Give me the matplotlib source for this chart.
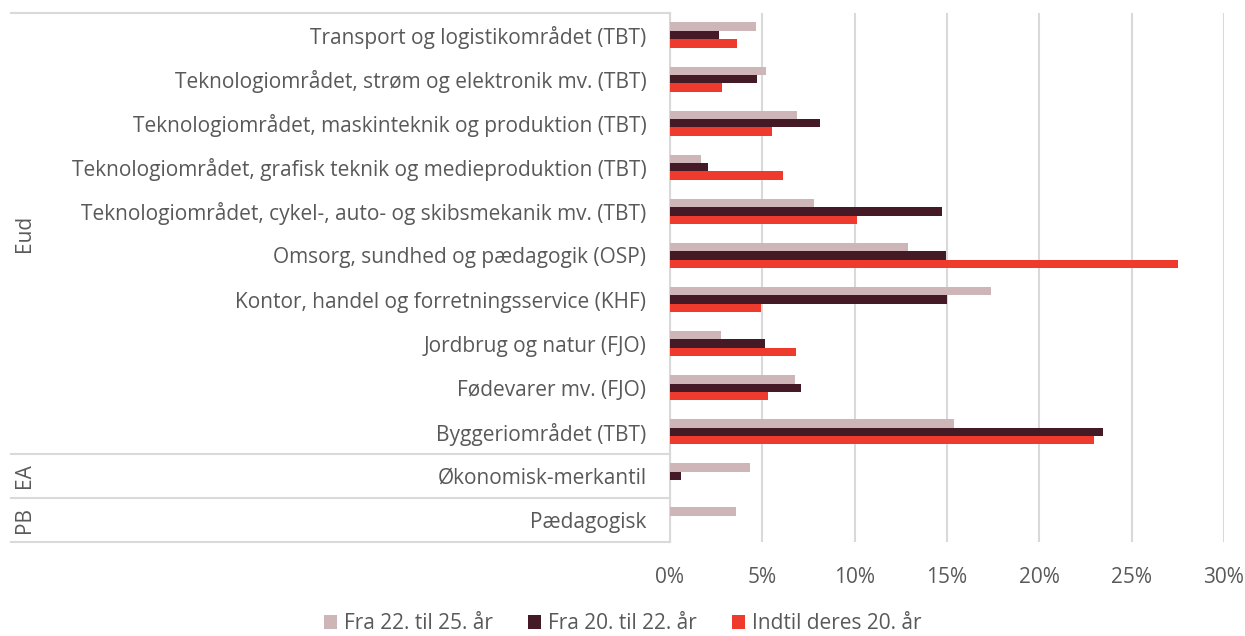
import numpy as np
import matplotlib.pyplot as plt
import matplotlib.transforms as mtransforms

plt.rcParams['font.family'] = ['Open Sans', 'DejaVu Sans']

categories = [
    'Transport og logistikområdet (TBT)',
    'Teknologiområdet, strøm og elektronik mv. (TBT)',
    'Teknologiområdet, maskinteknik og produktion (TBT)',
    'Teknologiområdet, grafisk teknik og medieproduktion (TBT)',
    'Teknologiområdet, cykel-, auto- og skibsmekanik mv. (TBT)',
    'Omsorg, sundhed og pædagogik (OSP)',
    'Kontor, handel og forretningsservice (KHF)',
    'Jordbrug og natur (FJO)',
    'Fødevarer mv. (FJO)',
    'Byggeriområdet (TBT)',
    'Økonomisk-merkantil',
    'Pædagogisk',
]
groups = ['Eud', 'EA', 'PB']
group_sizes = [10, 1, 1]

series_names = ['Fra 22. til 25. år', 'Fra 20. til 22. år', 'Indtil deres 20. år']
fra_22_25 = [4.65, 5.19, 6.87, 1.66, 7.78, 12.87, 17.37, 2.77, 6.75, 15.39, 4.32, 3.6]
fra_20_22 = [2.66, 4.72, 8.14, 2.08, 14.75, 14.93, 15.01, 5.15, 7.09, 23.47, 0.6, 0.0]
indtil_20 = [3.63, 2.84, 5.52, 6.11, 10.14, 27.52, 4.91, 6.81, 5.29, 22.97, 0.0, 0.0]
colors = ['#CDB5B8', '#431A25', '#EE3B2E']

text_col = '#595959'
grid_col = '#D9D9D9'
fs = 15

fig = plt.figure(figsize=(12.45, 6.36), dpi=100)
ax = fig.add_axes([670 / 1245, 1 - 542 / 636, 554 / 1245, 529 / 636])

y = np.arange(len(categories))
h = 0.19
for i, (vals, name, c) in enumerate(zip([fra_22_25, fra_20_22, indtil_20], series_names, colors)):
    ax.barh(y + (i - 1) * h, vals, height=h, color=c, label=name, zorder=3)

ax.set_ylim(len(categories) - 0.5, -0.5)
ax.set_xlim(0, 30)
ax.set_xticks(np.arange(0, 31, 5))
ax.set_xticklabels([f'{v}%' for v in range(0, 31, 5)], color=text_col, fontsize=fs)
ax.set_yticks(y)
ax.set_yticklabels(categories, color=text_col, fontsize=fs)
ax.tick_params(axis='both', length=0)
ax.tick_params(axis='y', pad=17)
ax.tick_params(axis='x', pad=18)
ax.grid(axis='x', color=grid_col, linewidth=1.5, zorder=0)
for s in ['top', 'right', 'bottom']:
    ax.spines[s].set_visible(False)
ax.spines['left'].set_color(grid_col)
ax.spines['left'].set_linewidth(1.5)

# group separators and labels on the left
trans = mtransforms.blended_transform_factory(ax.transAxes, ax.transData)
x0 = (11 - 670) / 554
bounds = [-0.5]
for n in group_sizes:
    bounds.append(bounds[-1] + n)
for b in bounds:
    ax.plot([x0, 0], [b, b], transform=trans, color=grid_col, linewidth=1.5, clip_on=False)
xg = (24 - 670) / 554
for g, lo, hi in zip(groups, bounds[:-1], bounds[1:]):
    ax.text(xg, (lo + hi) / 2, g, transform=trans, rotation=90, ha='center', va='center',
            color=text_col, fontsize=fs)

leg = fig.legend(loc='lower center', bbox_to_anchor=(0.5, -0.027), ncol=3, frameon=False,
                 fontsize=fs, handlelength=0.65, handleheight=0.65, handletextpad=0.3,
                 columnspacing=1.7)
for t in leg.get_texts():
    t.set_color(text_col)

fig.savefig('out.png', dpi=100)
